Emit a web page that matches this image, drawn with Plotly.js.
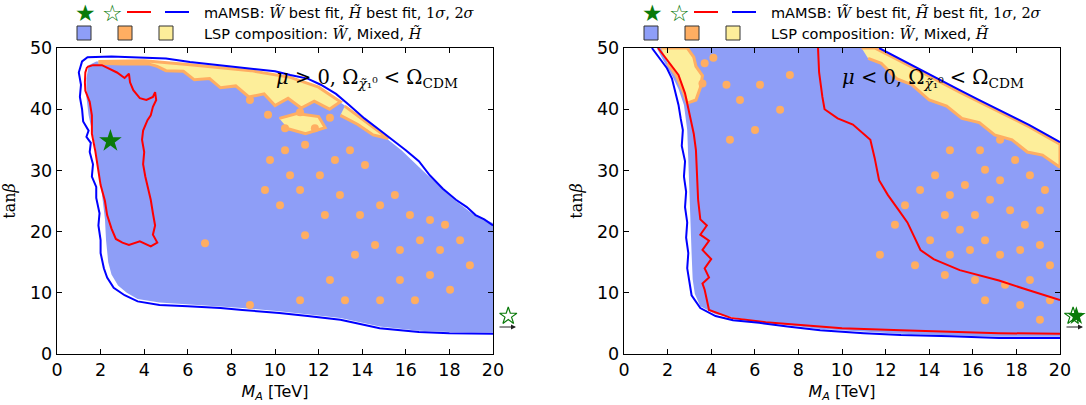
<!DOCTYPE html>
<html><head><meta charset="utf-8">
<script src="https://cdn.plot.ly/plotly-3.0.1.min.js"></script>
<style>body{margin:0;padding:0;background:#fff}#plot{width:1086px;height:405px}</style>
</head><body><div id="plot"></div>
<script>
// ---------- LEFT PANEL (mu > 0) ----------
// 2-sigma contour (blue)
const L_sig2_x = [20,18,16.6,14.8,13.8,13,11.5,10.2,8.5,7.5,6,4.7,3.7,3.1,2.6,2.3,2.15,2.0,2.0,1.9,1.95,1.8,1.8,1.6,1.65,1.5,1.55,1.35,1.45,1.2,1.15,1.05,1.1,1.0,1.15,1.4,2.5,4,5,6.1,7.5,8.9,10,10.7,11.5,12.1,12.8,13.4,14.1,14.8,15.4,16,16.6,17.1,17.7,18.3,18.8,19.2,19.6,20];
const L_sig2_y = [3.3,3.4,3.6,4.2,5.0,5.6,6.2,6.7,7.2,7.5,7.8,8.0,8.6,9.6,10.8,12.5,14,16.5,18.6,21,23,25.5,27.3,29,31,33,34.5,35.5,36.5,38,40,42,44,46,47.8,48.5,48.6,48.4,48.3,47.7,47.2,46.7,46.2,45.6,45,44,42.5,40.7,38.5,36.6,35,33.3,31.5,29.2,27,25.2,24,22.7,22,21];
// 1-sigma contour (red)
const L_sig1_x = [1.38,1.65,2.06,2.3,2.75,3.1,3.3,3.35,3.5,3.8,4.1,4.4,4.5,4.55,4.4,4.3,4.15,3.95,3.9,4.0,3.95,4.05,4.2,4.3,4.4,4.5,4.4,4.6,4.3,3.8,3.3,3.0,2.7,2.5,2.3,2.2,2.0,1.9,1.75,1.6,1.6,1.5,1.3,1.28,1.3,1.38];
const L_sig1_y = [46.9,47.2,47.2,46.8,46,45.1,45.8,44.4,43.1,41.8,41.5,42,42.8,41.5,40.4,39,38.2,36.5,35,33,31,29,27,25.2,23,21,19.5,18.2,17.6,18.4,17.8,18.2,18.8,20.5,22.7,25,27.6,30,33.3,36,39,41.2,43,44.4,46,46.9];
// Wino LSP region
const L_wino_x = [20,18,16.6,14.8,13,11.5,10.2,8.5,6,4.7,3.7,3.2,2.8,2.5,2.35,2.25,2.2,2.1,2.0,1.85,1.75,1.6,1.45,1.35,1.35,1.45,1.8,4,6,8.9,10.7,12,13.2,14.6,15.8,17,18.2,19.1,20];
const L_wino_y = [3.5,3.6,3.8,4.5,5.9,6.5,7.0,7.5,8.1,8.4,9.0,10,11.2,13,15,18.6,22,25.5,28,31,34,36.5,39,42,45,47.2,47.8,47.9,47.3,46.3,45.2,43.6,40.6,36.7,33.3,29.2,25.3,22.8,21.4];
// Higgsino LSP patches (null separates patches)
const L_hino_x = [1.9,4,6,8.9,10.7,12,13.0,12.5,11.8,11.2,10.6,10,9.5,8.8,8.2,7.5,7,6.3,5.8,5,4.6,4.2,3,1.9,null,13.2,14.6,15.2,14.5,13.8,13.0,null,10.2,11.0,12.0,12.3,11.4,10.6];
const L_hino_y = [47.8,47.9,47.3,46.3,45.2,43.6,41.2,40.0,41.3,40.2,41.8,40.6,42.5,42.0,43.8,43.5,45,44.8,46.2,46.3,47.0,47.4,47.4,47.5,null,40.5,36.7,35.2,35.8,37.5,39,null,38.5,39.3,38.8,37,36,36.8];
// Mixed LSP islands
const L_mix_x = [8.85,9.68,10.46,11.15,11.83,12.52,11.38,10.46,9.77,10.69,9.54,10.23,11.15,12.06,12.75,13.44,14.13,12.98,12.29,11.38,13.9,14.82,15.5,16.19,17.11,17.8,16.65,15.73,14.59,13.67,17.57,18.49,18.94,17.11,15.73,14.82,16.42,18.03,12.52,6.79,8.85,11.15,13.21];
const L_mix_y = [41.5,39.1,36.9,39.5,36.9,38.6,34.2,33.3,31.7,29.2,26.8,24.3,26.8,29.2,31.7,33.3,30.9,26.0,22.7,19.4,22.7,24.3,26.0,22.7,21.9,21.1,18.6,17.0,17.8,16.2,17.0,18.6,14.5,12.9,12.1,8.8,8.8,10.5,12.1,18.1,8.0,8.8,8.8];
// best fit points (the Higgsino one lies beyond the plotted range)
const L_bestW_x = [2.45], L_bestW_y = [34.8];
const L_bestH_x = [20.7], L_bestH_y = [6.2];

// ---------- RIGHT PANEL (mu < 0) ----------
const R_sig2_x = [1.28,1.6,1.97,2.2,2.34,2.5,2.6,2.7,2.65,2.8,2.75,2.85,2.8,2.9,2.85,2.95,2.9,3.0,3.1,3.5,4.2,5,6.2,7.5,9,11,12.7,15,17.2,20,null,11.7,12.6,13.6,14.5,15.4,16.3,17.2,18,18.6,19.3,20];
const R_sig2_y = [50,48.5,46.7,45,43.1,40.7,38.5,36.6,34,31.5,29,26.5,24,21.5,19,16.5,14,12.1,9.6,7.5,6.2,5.5,5.1,4.5,3.9,3.4,3.1,2.9,2.6,2.6,null,50,48.3,46.4,44.8,43.1,41.5,39.9,38.5,37.4,36,34.6];
const R_sig1_x = [1.56,2.0,2.5,2.8,3.0,3.2,3.3,3.35,3.4,3.5,3.8,3.5,3.9,3.6,4.0,3.7,3.9,3.6,3.7,3.9,4.9,6.5,8.1,10,12.7,15,17.2,20,null,8.9,8.95,9.1,9.2,9.8,10.5,11.3,11.5,11.7,12.1,12.6,13,13.6,14.2,15.4,16.3,17.2,18.5,20];
const R_sig1_y = [50,48,45.6,42.6,39.5,36,33.3,29,25.2,22,21,19.5,18.5,17,15.5,14,12.5,11.5,10.5,7.2,5.9,5.2,4.7,4.2,3.9,3.6,3.4,3.3,null,50,46,42,40,38.5,37.5,35,32,28.4,26,23.5,21.5,17,15.5,13.7,12.8,12,10.5,8.8];
const R_wino_x = [1.5,11.5,12.6,13.6,15.4,17.2,18.6,20,20,17.2,12.7,9,6.2,4.2,3.5,3.25,3.15,3.1,3.05,3.0,2.95,2.9,2.75,2.5,2.2,1.8];
const R_wino_y = [50,50,48,46.1,42.8,39.6,37.1,34.3,2.8,2.8,3.3,4.1,5.3,6.5,7.8,9.8,12.2,16.5,21.5,26.5,31.5,36.6,40.7,43.3,45.5,48];
const R_hino_x = [10.9,11.5,12.6,13.6,15.4,17.2,18.6,20,20,19.2,18.5,17.8,17,16.3,15.5,14.8,14,13.2,12.5,11.8,11.2,null,1.7,2.9,3.2,3.3,3.6,3.5,3.3,2.9,2.7,2.4,2.0];
const R_hino_y = [50,50,48,46.1,42.8,39.6,37.1,34.3,30.5,32.5,33,35,35.8,37.8,38.5,40.5,41.5,44,45,47.5,48.3,null,50,50,48.5,47,45.5,43.5,41.5,41,43,45.5,47.5];
const R_mix_x = [3.7,3.6,4.7,4.1,5.32,6.01,4.86,6.24,7.16,7.61,12.89,13.58,14.27,14.95,15.64,16.56,17.25,17.94,18.62,19.31,14.72,15.41,16.10,16.79,17.71,18.39,19.08,14.04,14.95,15.87,16.56,17.25,18.17,19.08,19.54,13.35,14.72,16.10,17.48,18.62,19.54,19.08,18.17,16.56,12.43,11.74,17.25,16.33,14.95];
const R_mix_y = [47.5,44.2,44.0,48.4,41.5,36.6,35.0,44.0,39.9,45.6,24.3,26.8,29.2,26.0,27.6,30.1,28.4,31.7,29.2,26.8,22.7,20.3,22.7,25.2,23.5,21.1,23.5,18.6,16.2,17.0,18.6,16.2,17.0,17.8,14.5,14.5,12.9,12.1,11.3,12.1,8.8,5.6,8.0,8.8,21.1,16.2,35.0,33.3,33.3];
const R_bestW_x = [20.75], R_bestW_y = [6.2];
const R_bestH_x = [20.6], R_bestH_y = [6.2];

// ---------- styling ----------
const C_W = '#8e9ef7', C_MIX = '#ffae62', C_H = '#fdee9a';
const C_R = '#ff0000', C_B = '#0000ff', C_G = '#0a7a0a';

function panel(sfx, sfxOut, wx, wy, hx, hy, mx, my, s2x, s2y, s1x, s1y, bwx, bwy, bhx, bhy, bwOut) {
  const xa = 'x' + sfx, ya = 'y' + sfx;
  // best-fit markers use an extended twin axis (same scale) so off-range points remain visible
  const bwa = bwOut ? 'x' + sfxOut : xa, bwya = bwOut ? 'y' + sfxOut : ya;
  return [
    {type:'scatter', x:wx, y:wy, xaxis:xa, yaxis:ya, mode:'lines', fill:'toself', fillcolor:C_W, line:{width:0}, hoverinfo:'skip'},
    {type:'scatter', x:hx, y:hy, xaxis:xa, yaxis:ya, mode:'lines', fill:'toself', fillcolor:C_H, line:{width:3, color:C_MIX}, hoverinfo:'skip'},
    {type:'scatter', x:mx, y:my, xaxis:xa, yaxis:ya, mode:'markers', marker:{symbol:'circle', size:8, color:C_MIX, line:{width:0}}, hoverinfo:'skip'},
    {type:'scatter', x:s1x, y:s1y, xaxis:xa, yaxis:ya, mode:'lines', line:{width:2, color:C_R}, hoverinfo:'skip'},
    {type:'scatter', x:s2x, y:s2y, xaxis:xa, yaxis:ya, mode:'lines', line:{width:2, color:C_B}, hoverinfo:'skip'},
    {type:'scatter', x:bhx, y:bhy, xaxis:'x' + sfxOut, yaxis:'y' + sfxOut, mode:'markers', cliponaxis:false, marker:{symbol:'star-open', size:13, color:C_G, line:{width:1.2, color:C_G}}, hoverinfo:'skip'},
    {type:'scatter', x:bwx, y:bwy, xaxis:bwa, yaxis:bwya, mode:'markers', cliponaxis:false, marker:{symbol:'star', size:bwOut ? 14 : 17, color:C_G, line:{width:0}}, hoverinfo:'skip'}
  ];
}

const data = [].concat(
  panel('', '3', L_wino_x, L_wino_y, L_hino_x, L_hino_y, L_mix_x, L_mix_y, L_sig2_x, L_sig2_y, L_sig1_x, L_sig1_y, L_bestW_x, L_bestW_y, L_bestH_x, L_bestH_y, false),
  panel('2', '4', R_wino_x, R_wino_y, R_hino_x, R_hino_y, R_mix_x, R_mix_y, R_sig2_x, R_sig2_y, R_sig1_x, R_sig1_y, R_bestW_x, R_bestW_y, R_bestH_x, R_bestH_y, true)
);

const W = 1086, H = 405;
const PX = 21.8; // pixels per TeV
const tickFont = {family:'DejaVu Sans', size:17.5, color:'#000'};
function xax(d) {
  return {domain:d, range:[0,20], tickvals:[0,2,4,6,8,10,12,14,16,18,20], ticks:'inside', ticklen:5, tickcolor:'#000',
    showline:true, linecolor:'#000', linewidth:1.3, mirror:'ticks', showgrid:false, zeroline:false, fixedrange:true,
    tickfont:tickFont, automargin:false,
    title:{text:'<i>M</i><sub><i>A</i></sub> [TeV]', font:{family:'DejaVu Sans', size:16, color:'#000'}, standoff:6}};
}
function yax(d, anchor) {
  return {domain:d, anchor:anchor, range:[0,50], tickvals:[0,10,20,30,40,50], ticks:'inside', ticklen:5, tickcolor:'#000',
    showline:true, linecolor:'#000', linewidth:1.3, mirror:'ticks', showgrid:false, zeroline:false, fixedrange:true,
    tickfont:tickFont, automargin:false,
    title:{text:'tan<i>β</i>', font:{family:'DejaVu Serif', size:16, color:'#000'}, standoff:10}};
}
function hidden(d, r, anchor) {
  return {domain:d, range:r, anchor:anchor, visible:false, fixedrange:true, showgrid:false, zeroline:false};
}
const yd = [1-354/H, 1-48/H];
const xdL = [57/W, 493/W], xdR = [624/W, 1060/W];
const xdL3 = [57/W, (57 + 21*PX)/W], xdR4 = [624/W, (624 + 21*PX)/W];

const shapes = [], annotations = [];
function legend(x0) {
  const px = v => (x0 + v)/W, py = v => 1 - v/H;
  annotations.push({xref:'paper', yref:'paper', x:px(1), y:py(13), text:'★', showarrow:false, font:{family:'DejaVu Sans', size:23, color:C_G}, xanchor:'center', yanchor:'middle'});
  annotations.push({xref:'paper', yref:'paper', x:px(28), y:py(13), text:'☆', showarrow:false, font:{family:'DejaVu Sans', size:23, color:C_G}, xanchor:'center', yanchor:'middle'});
  shapes.push({type:'line', xref:'paper', yref:'paper', x0:px(43), x1:px(67), y0:py(12), y1:py(12), line:{color:C_R, width:2}});
  shapes.push({type:'line', xref:'paper', yref:'paper', x0:px(81), x1:px(105), y0:py(12), y1:py(12), line:{color:C_B, width:2}});
  [[0,C_W],[41,C_MIX],[82,C_H]].forEach(([o,c]) => shapes.push({type:'rect', xref:'paper', yref:'paper', x0:px(o-7), x1:px(o+7), y0:py(40), y1:py(26), fillcolor:c, line:{color:'#333', width:1}}));
  const m = s => '<span style="font-family:DejaVu Serif">' + s + '</span>';
  annotations.push({xref:'paper', yref:'paper', x:px(118), y:py(12), text:'mAMSB: ' + m('<i>W̃</i>') + ' best fit, ' + m('<i>H̃</i>') + ' best fit, ' + m('1<i>σ</i>') + ', ' + m('2<i>σ</i>'), showarrow:false, xanchor:'left', yanchor:'middle', font:{family:'DejaVu Sans', size:14.5, color:'#000'}});
  annotations.push({xref:'paper', yref:'paper', x:px(118), y:py(33), text:'LSP composition: ' + m('<i>W̃</i>') + ', Mixed, ' + m('<i>H̃</i>'), showarrow:false, xanchor:'left', yanchor:'middle', font:{family:'DejaVu Sans', size:14.5, color:'#000'}});
}
legend(84);
legend(651);

const lbl = (x, sign) => ({xref:'paper', yref:'paper', x:x/W, y:1-78/H, xanchor:'left', yanchor:'middle', showarrow:false,
  text:'<i>μ</i> ' + sign + ' 0, Ω<sub><i>χ̃</i>₁⁰</sub> < Ω<sub>CDM</sub>', font:{family:'DejaVu Serif', size:19.5, color:'#000'}});
annotations.push(lbl(274, '>'));
annotations.push(lbl(840, '<'));
// off-plot arrows
[[516],[1083]].forEach(([xe]) => annotations.push({xref:'paper', yref:'paper', x:xe/W, y:1-327/H, ax:-18, ay:0, text:'', showarrow:true, arrowhead:2, arrowsize:1, arrowwidth:1, arrowcolor:'#222'}));

const layout = {
  width:W, height:H, margin:{l:0,r:0,t:0,b:0}, paper_bgcolor:'#fff', plot_bgcolor:'rgba(0,0,0,0)', showlegend:false,
  xaxis:Object.assign(xax(xdL),{anchor:'y'}), yaxis:yax(yd,'x'),
  xaxis2:Object.assign(xax(xdR),{anchor:'y2'}), yaxis2:yax(yd,'x2'),
  xaxis3:hidden(xdL3,[0,21],'y3'), yaxis3:hidden(yd,[0,50],'x3'),
  xaxis4:hidden(xdR4,[0,21],'y4'), yaxis4:hidden(yd,[0,50],'x4'),
  shapes:shapes, annotations:annotations
};
Plotly.newPlot('plot', data, layout, {staticPlot:true, displayModeBar:false});
</script></body></html>
